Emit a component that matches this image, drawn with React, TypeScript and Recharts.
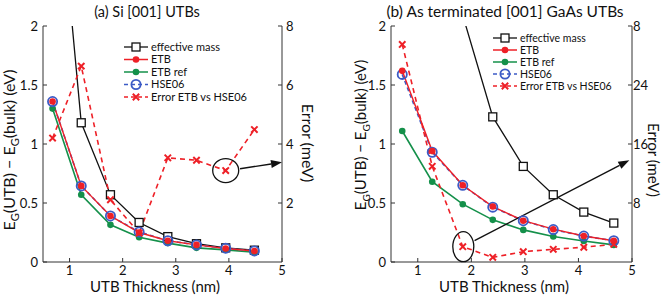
import React from "react";
import { LineChart, Line, XAxis, YAxis, ReferenceDot, ReferenceLine } from "recharts";

// (a) Si [001] UTBs
const siThickness = [0.68, 1.22, 1.77, 2.31, 2.85, 3.39, 3.94, 4.48];
const siEffMass = [3.8, 1.18, 0.57, 0.335, 0.215, 0.155, 0.12, 0.1];
const siEtb = [1.36, 0.645, 0.39, 0.25, 0.18, 0.145, 0.115, 0.093];
const siEtbRef = [1.3, 0.57, 0.315, 0.21, 0.16, 0.12, 0.103, 0.082];
const siHse = [1.36, 0.645, 0.39, 0.255, 0.18, 0.145, 0.117, 0.094];
const siErr = [4.2, 6.64, 2.11, 0.98, 3.53, 3.45, 3.1, 4.49];

// (b) As terminated [001] GaAs UTBs
const gaasThickness = [0.71, 1.27, 1.84, 2.4, 2.97, 3.53, 4.1, 4.66];
const gaasEffMass = [14.0, 4.4, 2.09, 1.23, 0.81, 0.57, 0.423, 0.33];
const gaasEtb = [1.62, 0.94, 0.65, 0.47, 0.35, 0.278, 0.22, 0.18];
const gaasEtbRef = [1.11, 0.68, 0.49, 0.357, 0.272, 0.216, 0.178, 0.145];
const gaasHse = [1.59, 0.93, 0.65, 0.465, 0.35, 0.275, 0.22, 0.18];
const gaasErr = [29.5, 12.97, 2.08, 0.63, 1.4, 1.72, 2.0, 2.4];

const xTicks = [1, 2, 3, 4, 5];
const egTicks = [0, 0.5, 1, 1.5, 2];
const siErrTicks = [2, 4, 6, 8];
const siErrLabels = ["2", "4", "6", "8"];
const gaasErrTicks = [8, 16, 24, 32];
const gaasErrLabels = ["8", "16", "24", "8"];
const legendNames = ["effective mass", "ETB", "ETB ref", "HSE06", "Error ETB vs HSE06"];

const FONT = "Lato, 'Liberation Sans', Arial, sans-serif";
const RED = "#ee2027";
const GREEN = "#14904a";
const BLUE = "#3c5bc6";
const BLACK = "#111111";
const AXIS = "#333333";

const makeRows = (t: number[], m: number[], e: number[], r: number[], h: number[], err: number[]) =>
  t.map((v, i) => ({ t: v, mass: m[i], etb: e[i], ref: r[i], hse: h[i], err: err[i] }));

const siRows = makeRows(siThickness, siEffMass, siEtb, siEtbRef, siHse, siErr);
const gaasRows = makeRows(gaasThickness, gaasEffMass, gaasEtb, gaasEtbRef, gaasHse, gaasErr);

const Square = ({ cx, cy }: any) => (
  <rect x={cx - 4} y={cy - 4} width={8} height={8} fill="#fff" stroke={BLACK} strokeWidth={1.3} />
);
const Dot = ({ cx, cy, color }: any) => <circle cx={cx} cy={cy} r={3.3} fill={color} />;
const Ring = ({ cx, cy }: any) => (
  <circle cx={cx} cy={cy} r={4.6} fill="none" stroke={BLUE} strokeWidth={1.8} />
);
const Cross = ({ cx, cy }: any) => (
  <path d={`M${cx - 3.2},${cy - 3.2}L${cx + 3.2},${cy + 3.2}M${cx - 3.2},${cy + 3.2}L${cx + 3.2},${cy - 3.2}`} stroke={RED} strokeWidth={2} />
);

const Arrow = (p: any) => {
  const { x1, y1, x2, y2 } = p;
  const a = Math.atan2(y2 - y1, x2 - x1);
  const L = 11;
  const W = 4;
  const bx = x2 - L * Math.cos(a);
  const by = y2 - L * Math.sin(a);
  const px = -Math.sin(a) * W;
  const py = Math.cos(a) * W;
  return (
    <g>
      <line x1={x1} y1={y1} x2={bx} y2={by} stroke={BLACK} strokeWidth={1.4} />
      <polygon points={`${x2},${y2} ${bx + px},${by + py} ${bx - px},${by - py}`} fill={BLACK} />
    </g>
  );
};

function Panel({ rows, errMax, errTicks, errLabels, leftWidth, rightWidth, rightMargin, ring, arrow }: any) {
  const tickStyle = { fontSize: 13, fill: "#111" };
  return (
    <LineChart width={332} height={300} data={rows} margin={{ top: 26, right: 0, bottom: 0, left: 0 }}>
      <XAxis dataKey="t" type="number" domain={[0.5, 5]} ticks={xTicks} height={38} stroke={AXIS}
        tickSize={-4} tickMargin={8} tick={tickStyle} allowDataOverflow />
      <XAxis xAxisId="top" orientation="top" dataKey="t" type="number" domain={[0.5, 5]} ticks={xTicks}
        height={0} stroke={AXIS} tickSize={-4} tickFormatter={() => ""} allowDataOverflow />
      <YAxis yAxisId="eg" type="number" domain={[0, 2]} ticks={egTicks} allowDataOverflow width={leftWidth}
        stroke={AXIS} tickSize={-4} tickMargin={9} tick={tickStyle} />
      <YAxis yAxisId="err" orientation="right" type="number" domain={[0, errMax]} ticks={errTicks}
        tickFormatter={(v: number) => errLabels[errTicks.indexOf(v)]} width={rightWidth}
        stroke={AXIS} tickSize={-4} tickMargin={rightMargin} tick={tickStyle} allowDataOverflow />
      <Line yAxisId="eg" dataKey="mass" stroke={BLACK} strokeWidth={1.3} isAnimationActive={false}
        dot={(p: any) => <Square key={p.index} cx={p.cx} cy={p.cy} />} />
      <Line yAxisId="eg" dataKey="ref" stroke={GREEN} strokeWidth={1.6} isAnimationActive={false}
        dot={(p: any) => <Dot key={p.index} cx={p.cx} cy={p.cy} color={GREEN} />} />
      <Line yAxisId="eg" dataKey="hse" stroke={BLUE} strokeWidth={1.6} strokeDasharray="4 3" isAnimationActive={false}
        dot={(p: any) => <Ring key={p.index} cx={p.cx} cy={p.cy} />} />
      <Line yAxisId="eg" dataKey="etb" stroke={RED} strokeWidth={1.4} isAnimationActive={false}
        dot={(p: any) => <Dot key={p.index} cx={p.cx} cy={p.cy} color={RED} />} />
      <Line yAxisId="err" dataKey="err" stroke={RED} strokeWidth={1.6} strokeDasharray="5 4" isAnimationActive={false}
        dot={(p: any) => <Cross key={p.index} cx={p.cx} cy={p.cy} />} />
      <ReferenceDot yAxisId="err" x={ring.x} y={ring.y} ifOverflow="visible"
        shape={(p: any) => <ellipse cx={p.cx} cy={p.cy} rx={ring.rx} ry={ring.ry} fill="none" stroke={BLACK} strokeWidth={1.3} />} />
      <ReferenceLine yAxisId="err" ifOverflow="visible" segment={arrow} shape={Arrow} />
    </LineChart>
  );
}

function LegendBox({ x, y, gap, size }: any) {
  const x2 = x + 24;
  const mid = x + 12;
  return (
    <g fontSize={size} fill="#111">
      {legendNames.map((name, i) => {
        const yy = y + i * gap;
        let line: any;
        let mark: any;
        if (i === 0) { line = <line x1={x} y1={yy} x2={x2} y2={yy} stroke={BLACK} strokeWidth={1.3} />; mark = <Square cx={mid} cy={yy} />; }
        if (i === 1) { line = <line x1={x} y1={yy} x2={x2} y2={yy} stroke={RED} strokeWidth={1.5} />; mark = <Dot cx={mid} cy={yy} color={RED} />; }
        if (i === 2) { line = <line x1={x} y1={yy} x2={x2} y2={yy} stroke={GREEN} strokeWidth={1.5} />; mark = <Dot cx={mid} cy={yy} color={GREEN} />; }
        if (i === 3) { line = <line x1={x} y1={yy} x2={x2} y2={yy} stroke={BLUE} strokeWidth={1.6} strokeDasharray="4 3" />; mark = <Ring cx={mid} cy={yy} />; }
        if (i === 4) { line = <line x1={x} y1={yy} x2={x2} y2={yy} stroke={RED} strokeWidth={1.6} strokeDasharray="4 3" />; mark = <Cross cx={mid} cy={yy} />; }
        return (
          <g key={name}>
            {line}
            {mark}
            <text x={x2 + 3} y={yy + size * 0.36}>{name}</text>
          </g>
        );
      })}
    </g>
  );
}

function Overlay() {
  return (
    <svg width={665} height={300} style={{ position: "absolute", left: 0, top: 0, pointerEvents: "none" }}>
      <text x={147} y={17} textAnchor="middle" fontSize={14.5} fill="#111">(a)  Si [001] UTBs</text>
      <text x={505} y={17} textAnchor="middle" fontSize={15.5} fill="#111">(b)  As terminated [001] GaAs UTBs</text>
      <text x={155} y={292} textAnchor="middle" fontSize={15} fill="#111">UTB Thickness (nm)</text>
      <text x={504} y={292} textAnchor="middle" fontSize={15} fill="#111">UTB Thickness (nm)</text>
      <text transform="translate(15,150) rotate(-90)" textAnchor="middle" fontSize={16} fill="#111">
        E<tspan dy={4} fontSize={11}>G</tspan><tspan dy={-4}>(UTB) − E</tspan><tspan dy={4} fontSize={11}>G</tspan><tspan dy={-4}>(bulk) (eV)</tspan>
      </text>
      <text transform="translate(366,135) rotate(-90)" textAnchor="middle" fontSize={15} fill="#111">
        E<tspan dy={4} fontSize={10}>G</tspan><tspan dy={-4}>(UTB) − E</tspan><tspan dy={4} fontSize={10}>G</tspan><tspan dy={-4}>(bulk) (eV)</tspan>
      </text>
      <text transform="translate(302,143) rotate(90)" textAnchor="middle" fontSize={16} fill="#111">Error (meV)</text>
      <text transform="translate(648,160) rotate(90)" textAnchor="middle" fontSize={15} fill="#111">Error (meV)</text>
      <LegendBox x={124} y={47} gap={12.5} size={11} />
      <LegendBox x={493} y={38} gap={12} size={10.5} />
    </svg>
  );
}

export default function App() {
  return (
    <div style={{ position: "absolute", left: 0, top: 0, width: 665, height: 300, background: "#fff", fontFamily: FONT }}>
      <div style={{ position: "absolute", left: 0, top: 0 }}>
        <Panel rows={siRows} errMax={8} errTicks={siErrTicks} errLabels={siErrLabels} leftWidth={43} rightWidth={50}
          rightMargin={8} ring={{ x: 3.94, y: 3.1, rx: 13, ry: 12 }}
          arrow={[{ x: 4.21, y: 3.16 }, { x: 5, y: 3.38 }]} />
      </div>
      <div style={{ position: "absolute", left: 333, top: 0 }}>
        <Panel rows={gaasRows} errMax={32} errTicks={gaasErrTicks} errLabels={gaasErrLabels} leftWidth={58} rightWidth={33}
          rightMargin={5} ring={{ x: 1.85, y: 2.08, rx: 10.5, ry: 15 }}
          arrow={[{ x: 2.06, y: 2.9 }, { x: 4.95, y: 13.8 }]} />
      </div>
      <Overlay />
    </div>
  );
}
